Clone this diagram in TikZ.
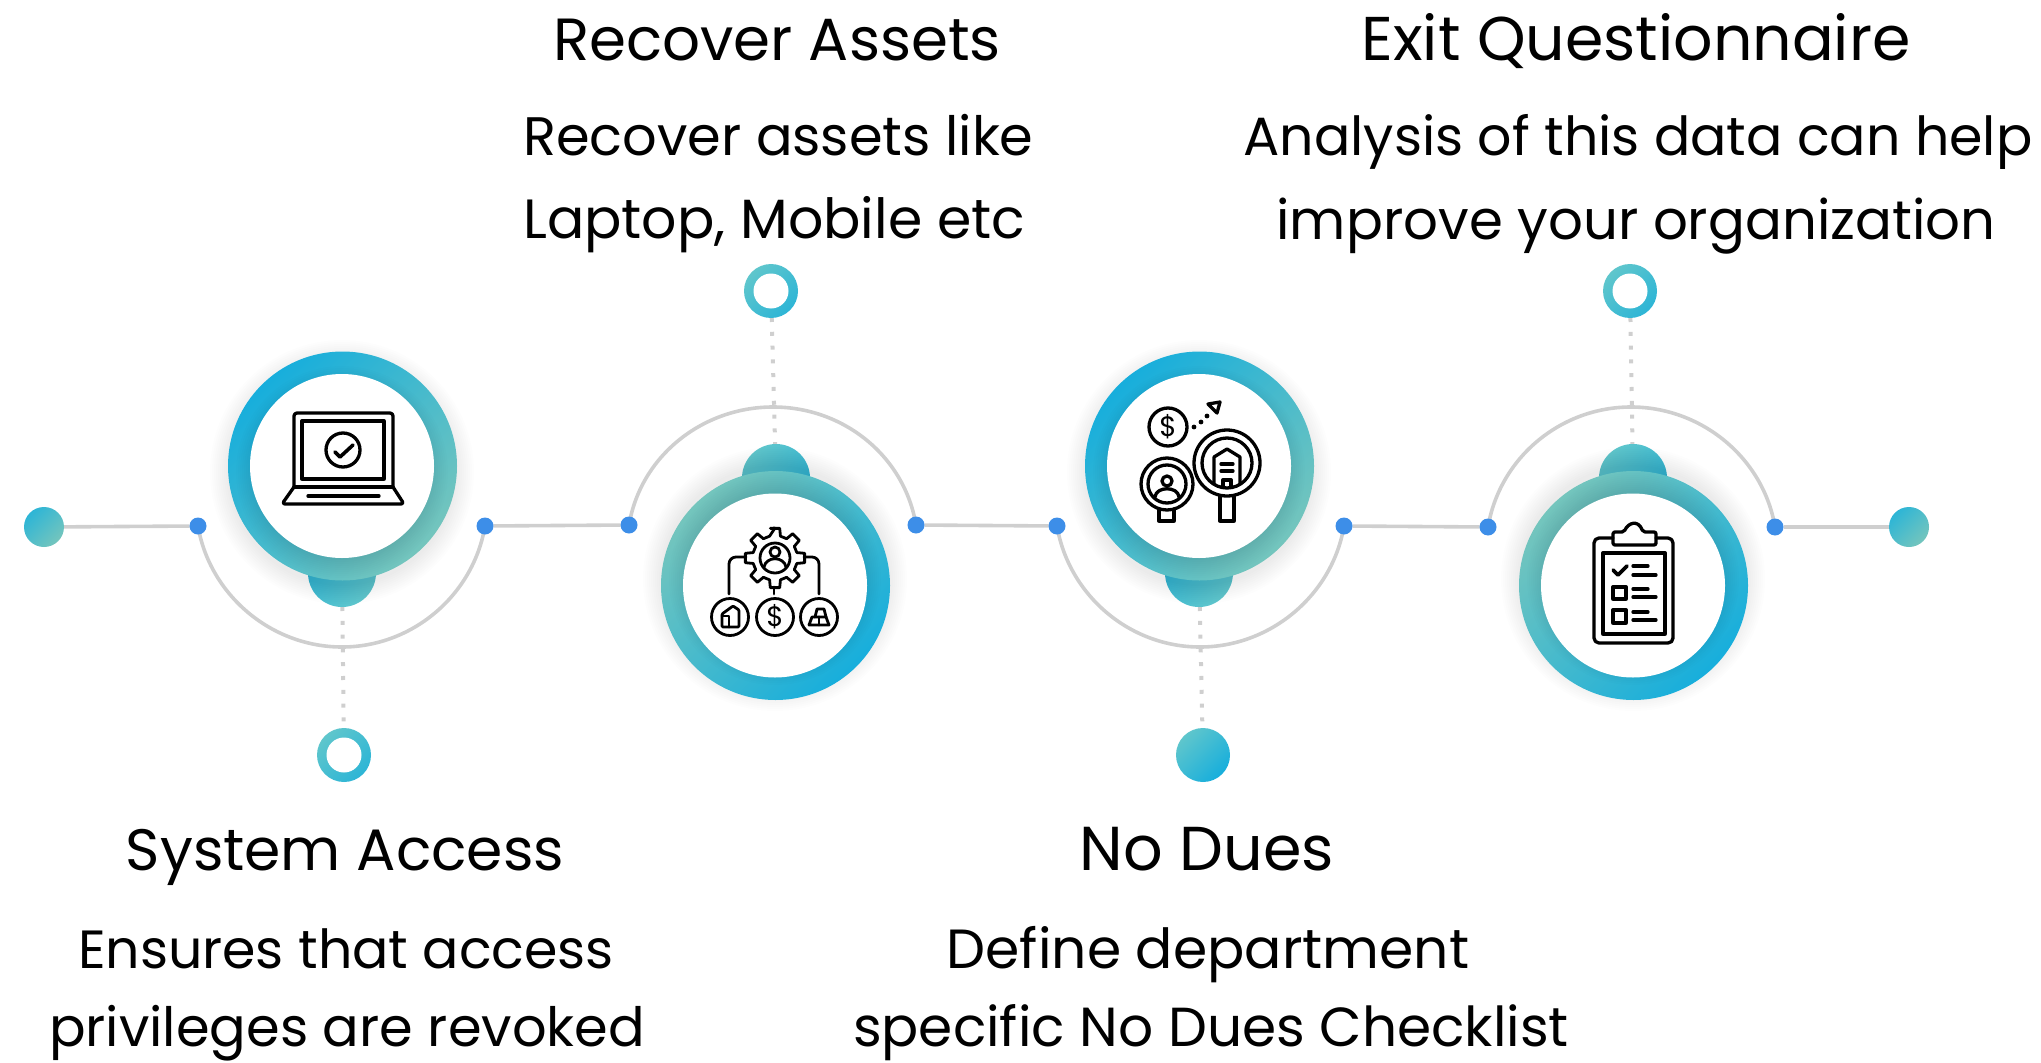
\documentclass[tikz,border=0pt]{standalone}
\usepackage{fontspec}
\setmainfont{Poppins}
\usetikzlibrary{backgrounds,calc}
\pgfdeclarelayer{under}
\pgfsetlayers{under,main}
\definecolor{tealA}{HTML}{17AEDC}
\definecolor{tealB}{HTML}{74C5BD}
\definecolor{tealC}{HTML}{2DB5D6}
\definecolor{tealD}{HTML}{5FC6CC}
\definecolor{dotblue}{HTML}{3D8EE8}
\definecolor{linegray}{HTML}{CFCFCF}
\tikzset{
  x=1pt,y=-1pt,
  disc/.style={circle,inner sep=0pt,outer sep=0pt,minimum size=#1*2pt},
  ringdown/.style={disc=114.5,left color=tealA,right color=tealB,shading angle=45},
  ringup/.style={disc=114.5,left color=tealB,right color=tealA,shading angle=45},
  bumpdown/.style={disc=34,left color=tealC,right color=tealD,shading angle=45},
  bumpup/.style={disc=34,left color=tealD,right color=tealC,shading angle=45},
  face/.style={disc=92,fill=white},
  hole/.style={disc=#1,fill=white},
  smallring/.style={disc=27,left color=tealD,right color=tealC,shading angle=45},
  smalldisc/.style={disc=27,left color=tealD,right color=tealA,shading angle=45},
  enddisc/.style={disc=20,left color=tealC,right color=tealB,shading angle=45},
  bluedot/.style={disc=8.5,fill=dotblue},
  wire/.style={draw=linegray,line width=3.6pt},
  dots/.style={draw=linegray,line width=4pt,dash pattern=on 4pt off 9.8pt},
  icon/.style={draw=black,line width=3.3pt,line cap=round,line join=round},
  thin icon/.style={draw=black,line width=2.8pt,line cap=round,line join=round},
  txt/.style={anchor=base,font=\fontsize{#1}{60}\selectfont,text=black,inner sep=0pt},
  icontxt/.style={anchor=center,font=\fontsize{#1}{#1}\selectfont,text=black,inner sep=0pt},
}
\newcommand{\softshadow}[4]{% x y R opacity
  \foreach \rr in {0,2,...,18}{\fill[black,opacity=#4] (#1,#2) circle[radius=#3+\rr];}}
\begin{document}
\begin{tikzpicture}
\useasboundingbox (0,0) rectangle (2041,1062);

% ---- end discs and blue dots
\node[enddisc] (startd) at (44,527) {};
\node[enddisc] (endd) at (1909,527) {};
\node[bluedot] (d1) at (198,526) {};
\node[bluedot] (d2) at (485,526) {};
\node[bluedot] (d3) at (629,525) {};
\node[bluedot] (d4) at (916,525) {};
\node[bluedot] (d5) at (1057,526) {};
\node[bluedot] (d6) at (1344,526) {};
\node[bluedot] (d7) at (1488,527) {};
\node[bluedot] (d8) at (1775,527) {};
\coordinate (a1) at (342,647);
\coordinate (a2) at (773,407);
\coordinate (a3) at (1200,647);
\coordinate (a4) at (1631,407);

% ---- bumps
\node[bumpdown] (b1) at (342,573) {};
\node[bumpup] (b2) at (776,478) {};
\node[bumpdown] (b3) at (1199,573) {};
\node[bumpup] (b4) at (1633,478) {};

% ---- small terminals
\node[smallring] (s1) at (344,755) {};
\node[hole=17.5] (s1h) at (344,755) {};
\node[smallring] (s2) at (771,291) {};
\node[hole=17.5] (s2h) at (771,291) {};
\node[smalldisc] (s3) at (1203,755) {};
\node[smallring] (s4) at (1630,291) {};
\node[hole=17.5] (s4h) at (1630,291) {};

% ---- big rings
\softshadow{342}{472}{114}{0.007}
\node[ringdown] (r1) at (342.5,466) {};
\softshadow{342}{472}{88}{0.009}
\node[face] (f1) at (342,466) {};

\softshadow{775}{579}{114}{0.007}
\node[ringup] (r2) at (775.5,585.5) {};
\softshadow{775}{579}{88}{0.009}
\node[face] (f2) at (775,585.5) {};

\softshadow{1199}{472}{114}{0.007}
\node[ringdown] (r3) at (1199.5,466) {};
\softshadow{1199}{472}{88}{0.009}
\node[face] (f3) at (1199,466) {};

\softshadow{1633}{579}{114}{0.007}
\node[ringup] (r4) at (1633.5,585.5) {};
\softshadow{1633}{579}{88}{0.009}
\node[face] (f4) at (1633,585.5) {};

% ---- connectors
\begin{pgfonlayer}{under}
\draw[wire] (startd) -- (d1);
\draw[wire] (d2) -- (d3);
\draw[wire] (d4) -- (d5);
\draw[wire] (d6) -- (d7);
\draw[wire] (d8) -- (endd);
\draw[wire] (d1.center) .. controls +(11.7,69.3) and +(-70.3,0) .. (a1) .. controls +(70.3,0) and +(-11.7,69.3) .. (d2.center);
\draw[wire] (d3.center) .. controls +(11.7,-69.3) and +(-70.3,0) .. (a2) .. controls +(70.3,0) and +(-11.7,-69.3) .. (d4.center);
\draw[wire] (d5.center) .. controls +(11.7,69.3) and +(-70.3,0) .. (a3) .. controls +(70.3,0) and +(-11.7,69.3) .. (d6.center);
\draw[wire] (d7.center) .. controls +(11.7,-69.3) and +(-70.3,0) .. (a4) .. controls +(70.3,0) and +(-11.7,-69.3) .. (d8.center);
\draw[dots] (b1) -- (s1);
\draw[dots] (s2) -- (b2);
\draw[dots] (b3) -- (s3);
\draw[dots] (s4) -- (b4);
\end{pgfonlayer}

% ---- icon 1: laptop
\draw[icon,rounded corners=3pt] (294,487) -- (294,413) -- (393,413) -- (393,487);
\draw[icon] (302,421) rectangle (384,479);
\draw[icon] (294,487) -- (393,487);
\draw[icon,rounded corners=3pt] (294,487) -- (282,504) -- (404,504) -- (393,487);
\draw[icon] (308,496) -- (379,496);
\draw[icon] (343,450) circle[radius=17];
\draw[icon,line width=3.6pt] (335,452) -- (340,457) -- (353,445);

% ---- icon 2: gear and three assets
\draw[thin icon] (775,528)
  \foreach \a in {0,45,...,315}{
    -- ($(775,558)+(\a-90-9:30)$) -- ($(775,558)+(\a-90+9:30)$)
    -- ($(775,558)+(\a-90+14:22.5)$) -- ($(775,558)+(\a-90+31:22.5)$)
  } -- cycle;
\draw[thin icon] (775,558) circle[radius=15];
\draw[thin icon] (775,552) circle[radius=5];
\draw[thin icon] (764,567) .. controls (766,556) and (784,556) .. (786,567);
\draw[thin icon,rounded corners=7pt] (746,557) -- (729,557) -- (729,594);
\draw[thin icon,rounded corners=7pt] (804,557) -- (819,557) -- (819,594);
\draw[thin icon] (774,587) -- (774,594);
\draw[thin icon] (730,617) circle[radius=18.5];
\draw[thin icon] (775,617) circle[radius=18.5];
\draw[thin icon] (819,617) circle[radius=18.5];
\draw[thin icon,rounded corners=1pt] (722,627) -- (722,614) -- (733,606) -- (739,610) -- (739,627) -- cycle;
\draw[thin icon] (722,616) -- (729,616) -- (729,627);
\node[icontxt=28] (dollar2) at (775,617) {\$};
\draw[thin icon] (809,625) -- (812,617) -- (826,617) -- (829,625) -- cycle;
\draw[thin icon] (815,617) -- (817,609) -- (824,609) -- (826,617);
\draw[thin icon] (819,625) -- (819,617);

% ---- icon 3: money and magnifiers
\draw[icon] (1168,427) circle[radius=19];
\node[icontxt=28] (dollar3) at (1168,427) {\$};
\fill (1194,427) circle[radius=2.4];
\fill (1201,422) circle[radius=2.4];
\fill (1207,416) circle[radius=2.4];
\draw[icon] (1208,404) -- (1220,402) -- (1217,413) -- cycle;
\draw[icon] (1227,463) circle[radius=33];
\draw[icon] (1227,463) circle[radius=25];
\draw[icon] (1214,484) -- (1214,457) -- (1227,449) -- (1240,457) -- (1240,484);
\draw[icon] (1221,464) -- (1233,464);
\draw[icon] (1221,471) -- (1233,471);
\draw[icon] (1223,487) -- (1223,480) -- (1231,480) -- (1231,487);
\draw[icon] (1220,496) -- (1220,521) -- (1234,521) -- (1234,496);
\draw[icon] (1167,484) circle[radius=26];
\draw[icon] (1167,484) circle[radius=19];
\draw[icon] (1167,481) circle[radius=5];
\draw[icon] (1155,497) .. controls (1156,486) and (1178,486) .. (1179,497);
\draw[icon] (1159,509) -- (1159,521) -- (1174,521) -- (1174,509);

% ---- icon 4: clipboard
\draw[icon,rounded corners=5pt] (1613,538) -- (1594,538) -- (1594,643) -- (1673,643) -- (1673,538) -- (1656,538);
\draw[icon] (1603,553) rectangle (1665,634);
\draw[icon,rounded corners=2pt] (1613,545) -- (1613,532) -- (1624,532) .. controls (1628,523) and (1638,519) .. (1643,532) -- (1656,532) -- (1656,545) -- cycle;
\draw[icon,line width=3.6pt] (1613,570) -- (1618,575) -- (1627,566);
\draw[icon] (1633,566) -- (1648,566);
\draw[icon] (1633,575) -- (1656,575);
\draw[icon] (1613,587) rectangle (1626,599);
\draw[icon] (1633,589) -- (1648,589);
\draw[icon] (1633,597) -- (1656,597);
\draw[icon] (1613,610) rectangle (1626,623);
\draw[icon] (1633,612) -- (1648,612);
\draw[icon] (1633,620) -- (1656,620);

% ---- texts
\node[txt=59.5] (t2) at (777,61) {Recover Assets};
\node[txt=54.2,anchor=base west] (t2a) at (523,155) {Recover assets like};
\node[txt=55.3,anchor=base west] (t2b) at (523,238) {Laptop, Mobile etc};
\node[txt=61.8] (t4) at (1636,61) {Exit Questionnaire};
\node[txt=53.8] (t4a) at (1638,155) {Analysis of this data can help};
\node[txt=54.6] (t4b) at (1636,239) {improve your organization};
\node[txt=58.4] (t1) at (345,870) {System Access};
\node[txt=53.8] (t1a) at (346,968) {Ensures that access};
\node[txt=54.2] (t1b) at (347,1046) {privileges are revoked};
\node[txt=62] (t3) at (1207,870) {No Dues};
\node[txt=55.2] (t3a) at (1208,968) {Define department};
\node[txt=55] (t3b) at (1211,1046) {specific No Dues Checklist};
\end{tikzpicture}
\end{document}
